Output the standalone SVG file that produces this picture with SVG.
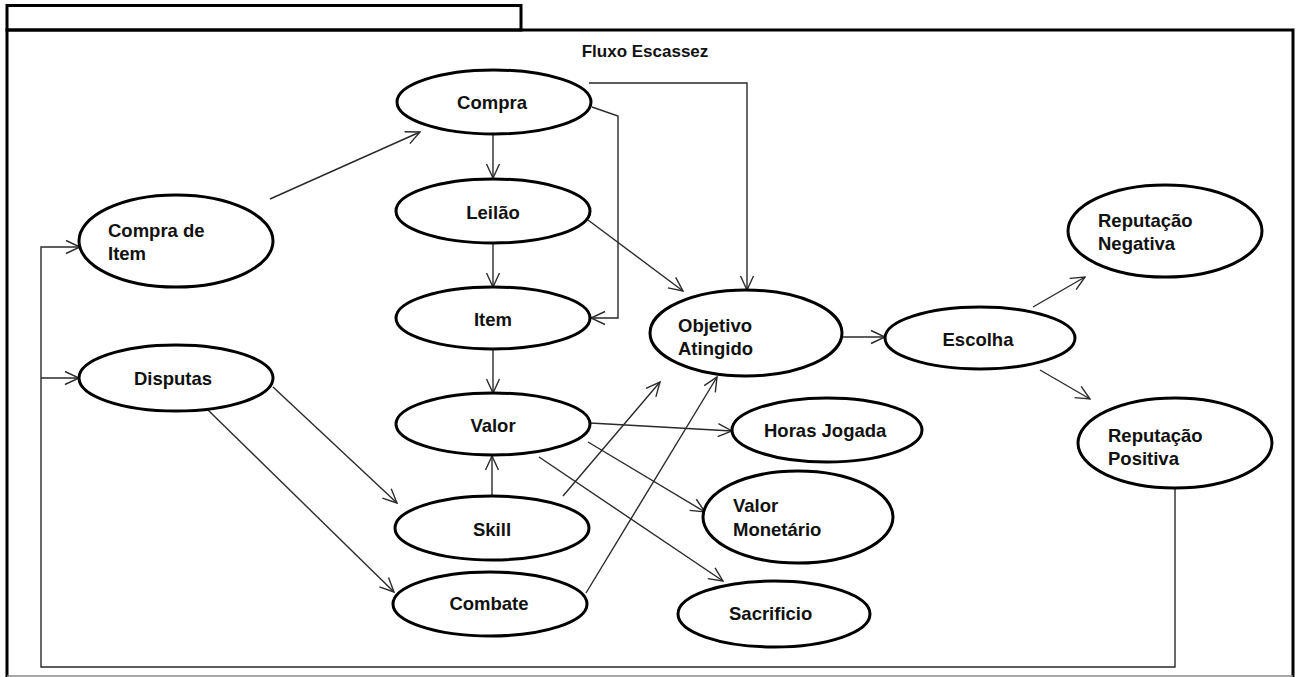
<svg xmlns="http://www.w3.org/2000/svg" width="1298" height="677" viewBox="0 0 1298 677">
  <style>
    .node ellipse { fill: #ffffff; stroke: #000000; stroke-width: 3; }
    .node text { font-family: "Liberation Sans", Arial, sans-serif; font-weight: bold; font-size: 18.5px; fill: #111111; }
    .c { text-anchor: middle; }
    .edge { fill: none; stroke: #2a2a2a; stroke-width: 1.4; }
    .frame { fill: none; stroke: #000000; stroke-width: 3; }
    .title { font-family: "Liberation Sans", Arial, sans-serif; font-weight: bold; font-size: 17px; fill: #111111; text-anchor: middle; }
  </style>
  <defs>
    <marker id="open" viewBox="0 0 16 16" refX="15" refY="8" markerWidth="16" markerHeight="16" markerUnits="userSpaceOnUse" orient="auto">
      <path d="M1,1.5 L15,8 L1,14.5" fill="none" stroke="#2a2a2a" stroke-width="1.4"/>
    </marker>
  </defs>

  <rect x="0" y="0" width="1298" height="677" fill="#ffffff"/>

  <!-- package frame with name tab -->
  <g id="frame">
    <rect class="frame" x="7" y="5.5" width="514" height="24.5"/>
    <path class="frame" d="M7,677 V30 H1293 V677"/>
    <line x1="7" y1="676" x2="1293" y2="676" stroke="#8a8a8a" stroke-width="1.5"/>
    <text class="title" x="645" y="57">Fluxo Escassez</text>
  </g>

  <!-- connectors -->
  <g id="connectors">
    <line class="edge" x1="270" y1="199" x2="420" y2="132" marker-end="url(#open)"/>
    <line class="edge" x1="493" y1="134" x2="493" y2="178" marker-end="url(#open)"/>
    <line class="edge" x1="493" y1="243" x2="493" y2="287" marker-end="url(#open)"/>
    <line class="edge" x1="493" y1="349" x2="493" y2="393" marker-end="url(#open)"/>
    <line class="edge" x1="492" y1="496" x2="492" y2="456" marker-end="url(#open)"/>
    <path class="edge" d="M592,107 L618,116 V318 H591" marker-end="url(#open)"/>
    <path class="edge" d="M589,83 H747 V290" marker-end="url(#open)"/>
    <line class="edge" x1="588" y1="220" x2="683" y2="291" marker-end="url(#open)"/>
    <line class="edge" x1="842" y1="337" x2="885" y2="337" marker-end="url(#open)"/>
    <line class="edge" x1="1033" y1="307" x2="1085" y2="277" marker-end="url(#open)"/>
    <line class="edge" x1="1040" y1="370" x2="1090" y2="399" marker-end="url(#open)"/>
    <line class="edge" x1="273" y1="387" x2="397" y2="503" marker-end="url(#open)"/>
    <line class="edge" x1="208" y1="410" x2="394" y2="592" marker-end="url(#open)"/>
    <line class="edge" x1="590" y1="423" x2="732" y2="431" marker-end="url(#open)"/>
    <line class="edge" x1="588" y1="442" x2="705" y2="512" marker-end="url(#open)"/>
    <line class="edge" x1="539" y1="457" x2="723" y2="581" marker-end="url(#open)"/>
    <line class="edge" x1="563" y1="496" x2="660" y2="382" marker-end="url(#open)"/>
    <line class="edge" x1="586" y1="593" x2="717" y2="377" marker-end="url(#open)"/>
    <path class="edge" d="M1175,488 V667 H41 V247 H80" marker-end="url(#open)"/>
    <line class="edge" x1="41" y1="378" x2="79" y2="378" marker-end="url(#open)"/>
  </g>

  <g id="compra" class="node">
    <ellipse cx="494" cy="102" rx="97" ry="32"/>
    <text class="c" x="492" y="109">Compra</text>
  </g>
  <g id="leilao" class="node">
    <ellipse cx="493" cy="211" rx="97" ry="32"/>
    <text class="c" x="493" y="219">Leilão</text>
  </g>
  <g id="item" class="node">
    <ellipse cx="493" cy="318" rx="97" ry="31"/>
    <text class="c" x="493" y="326">Item</text>
  </g>
  <g id="valor" class="node">
    <ellipse cx="493" cy="424" rx="97" ry="31"/>
    <text class="c" x="493" y="432">Valor</text>
  </g>
  <g id="skill" class="node">
    <ellipse cx="492" cy="528" rx="97" ry="32"/>
    <text class="c" x="492" y="536">Skill</text>
  </g>
  <g id="combate" class="node">
    <ellipse cx="490" cy="604" rx="97" ry="32"/>
    <text class="c" x="489" y="610">Combate</text>
  </g>
  <g id="compra-de-item" class="node">
    <ellipse cx="176" cy="241" rx="97" ry="46"/>
    <text x="108" y="237">Compra de</text>
    <text x="108" y="260">Item</text>
  </g>
  <g id="disputas" class="node">
    <ellipse cx="176" cy="378" rx="97" ry="33"/>
    <text class="c" x="173" y="385">Disputas</text>
  </g>
  <g id="objetivo-atingido" class="node">
    <ellipse cx="746" cy="333" rx="96" ry="43"/>
    <text x="678" y="332">Objetivo</text>
    <text x="678" y="355">Atingido</text>
  </g>
  <g id="escolha" class="node">
    <ellipse cx="980" cy="338" rx="95" ry="31"/>
    <text class="c" x="978" y="346">Escolha</text>
  </g>
  <g id="reputacao-negativa" class="node">
    <ellipse cx="1165" cy="231" rx="97" ry="46"/>
    <text x="1098" y="227">Reputação</text>
    <text x="1098" y="250">Negativa</text>
  </g>
  <g id="reputacao-positiva" class="node">
    <ellipse cx="1175" cy="443" rx="97" ry="45"/>
    <text x="1108" y="442">Reputação</text>
    <text x="1108" y="465">Positiva</text>
  </g>
  <g id="horas-jogada" class="node">
    <ellipse cx="827" cy="430" rx="95" ry="32"/>
    <text x="764" y="437">Horas Jogada</text>
  </g>
  <g id="valor-monetario" class="node">
    <ellipse cx="798" cy="517" rx="95" ry="46"/>
    <text x="733" y="512">Valor</text>
    <text x="733" y="536">Monetário</text>
  </g>
  <g id="sacrificio" class="node">
    <ellipse cx="774" cy="614" rx="96" ry="33"/>
    <text x="729" y="620">Sacrificio</text>
  </g>
</svg>
